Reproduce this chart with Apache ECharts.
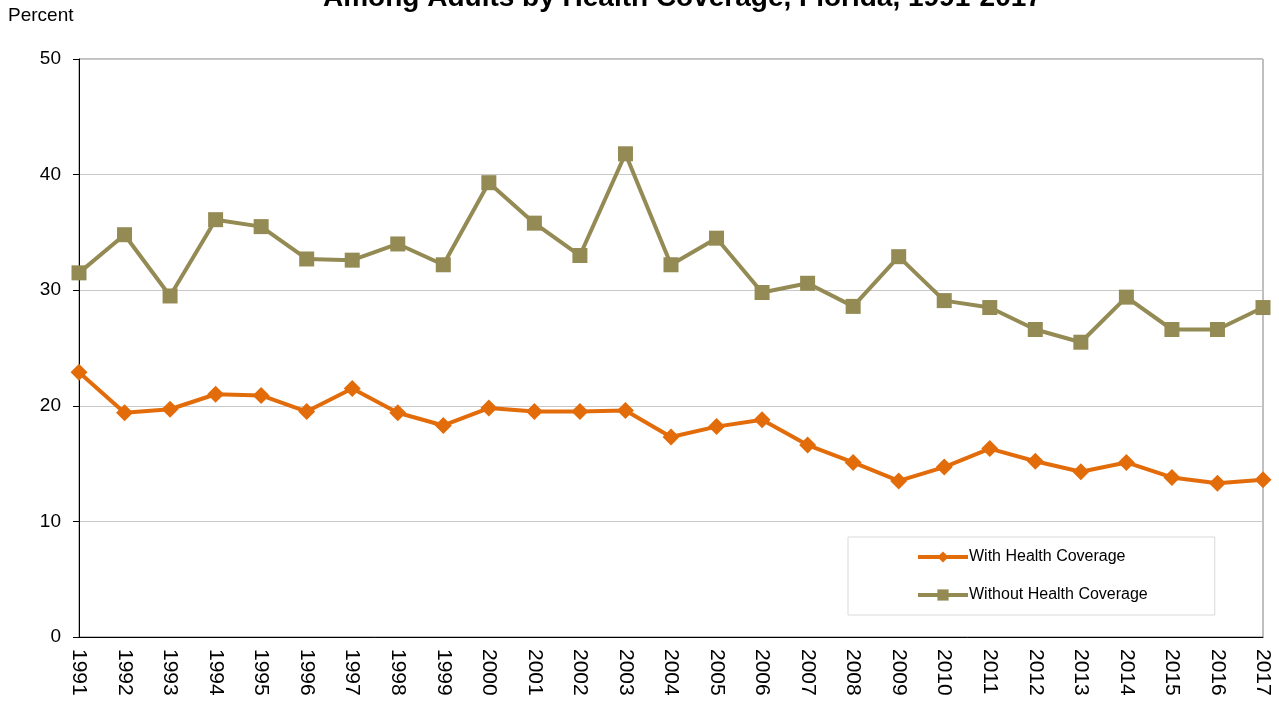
<!DOCTYPE html>
<html>
<head>
<meta charset="utf-8">
<title>Health Coverage, Florida</title>
<script src="https://cdn.jsdelivr.net/npm/echarts@6/dist/echarts.min.js"></script>
<style>
  html, body { margin: 0; padding: 0; background: #fff; }
  #chart { width: 1279px; height: 702px; }
</style>
</head>
<body>
<div id="chart"></div>
<script>
// years on the x axis
var years = ['1991', '1992', '1993', '1994', '1995', '1996', '1997', '1998', '1999', '2000',
  '2001', '2002', '2003', '2004', '2005', '2006', '2007', '2008', '2009', '2010',
  '2011', '2012', '2013', '2014', '2015', '2016', '2017'];

// percent
var withCoverage = [22.9, 19.4, 19.7, 21.0, 20.9, 19.5, 21.5, 19.4, 18.3, 19.8,
  19.5, 19.5, 19.6, 17.3, 18.2, 18.8, 16.6, 15.1, 13.5, 14.7,
  16.3, 15.2, 14.3, 15.1, 13.8, 13.3, 13.6];
var withoutCoverage = [31.5, 34.8, 29.5, 36.1, 35.5, 32.7, 32.6, 34.0, 32.2, 39.3,
  35.8, 33.0, 41.8, 32.2, 34.5, 29.8, 30.6, 28.6, 32.9, 29.1,
  28.5, 26.6, 25.5, 29.4, 26.6, 26.6, 28.5];

var chart = echarts.init(document.getElementById('chart'));
var option = {
  backgroundColor: '#fff',
  animation: false,
  textStyle: { fontFamily: 'Liberation Sans, Arial, sans-serif' },
  title: {
    // first line of the title is off the top of the picture
    text: 'Among Adults by Health Coverage, Florida, 1991-2017',
    left: 318,
    top: -21,
    textStyle: { fontSize: 28, fontWeight: 'bold', color: '#000' }
  },
  graphic: [{
    type: 'text',
    left: 8,
    top: 6,
    style: { text: 'Percent', fontSize: 19, fill: '#000', fontFamily: 'Liberation Sans, Arial, sans-serif' }
  }],
  legend: {
    orient: 'vertical',
    left: 848,
    top: 537,
    itemWidth: 50,
    itemHeight: 14,
    itemGap: 22,
    padding: [12, 67, 12, 68],
    borderColor: '#d9d9d9',
    borderWidth: 1,
    textStyle: { fontSize: 16, color: '#000', padding: [0, 0, 0, -4] },
    lineStyle: { width: 4 },
    data: ['With Health Coverage', 'Without Health Coverage']
  },
  grid: {
    left: 79,
    right: 16,
    top: 59,
    bottom: 65,
    show: true,
    borderColor: '#808080',
    borderWidth: 1
  },
  xAxis: {
    type: 'category',
    data: years,
    boundaryGap: false,
    axisLine: { lineStyle: { color: '#000', width: 1 } },
    axisTick: { show: false },
    axisLabel: { rotate: -90, fontSize: 21, color: '#000', margin: 12 }
  },
  yAxis: {
    type: 'value',
    min: 0,
    max: 50,
    interval: 10,
    axisLine: { show: true, lineStyle: { color: '#000', width: 1 } },
    axisTick: { show: true, length: 6, lineStyle: { color: '#000' } },
    axisLabel: { fontSize: 19, color: '#000', margin: 18 },
    splitLine: { lineStyle: { color: '#c8c8c8', width: 1 } }
  },
  series: [
    {
      name: 'With Health Coverage',
      type: 'line',
      data: withCoverage,
      color: '#E36C0A',
      symbol: 'diamond',
      symbolSize: 17,
      lineStyle: { width: 4 },
      itemStyle: { color: '#E36C0A' },
      z: 3
    },
    {
      name: 'Without Health Coverage',
      type: 'line',
      data: withoutCoverage,
      color: '#948A54',
      symbol: 'rect',
      symbolSize: 15,
      lineStyle: { width: 4 },
      itemStyle: { color: '#948A54' },
      z: 2
    }
  ]
};
chart.setOption(option);
</script>
</body>
</html>
